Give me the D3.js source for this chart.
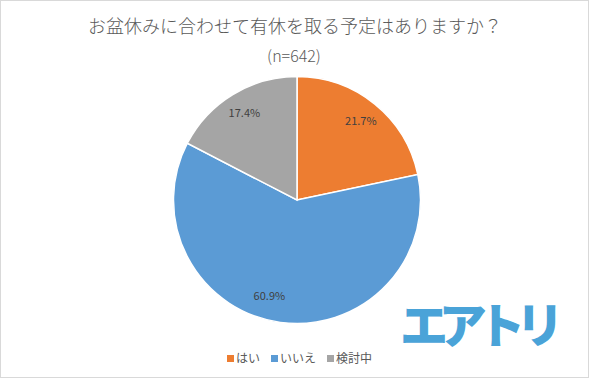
<!DOCTYPE html>
<html><head><meta charset="utf-8">
<script src="https://cdn.jsdelivr.net/npm/d3@7"></script>
<style>html,body{margin:0;padding:0;background:#fff;}svg{display:block;}</style>
</head><body>
<svg id="chart" width="590" height="379"></svg>
<script>
const categories = ["はい", "いいえ", "検討中"];
const values = [21.7, 60.9, 17.4];
const colors = ["#ED7D31", "#5B9BD5", "#A5A5A5"];
const titleText = "お盆休みに合わせて有休を取る予定はありますか？";
const subtitleText = "(n=642)";
const logoText = "エアトリ";

const W = 590, H = 379;
const svg = d3.select("#chart");
const font = "'Noto Sans CJK JP', 'Noto Sans', sans-serif";

svg.append("rect").attr("x", 0.5).attr("y", 0.5).attr("width", W - 2).attr("height", H - 2)
  .attr("fill", "#fff").attr("stroke", "#d9d9d9").attr("stroke-width", 1);

svg.append("text").attr("x", 295).attr("y", 33).attr("text-anchor", "middle")
  .attr("font-family", font).attr("font-weight", 300).attr("font-size", 18).attr("fill", "#595959").text(titleText);
svg.append("text").attr("x", 294).attr("y", 62).attr("text-anchor", "middle")
  .attr("font-family", font).attr("font-weight", 300).attr("font-size", 16).attr("fill", "#595959").text(subtitleText);

const cx = 297, cy = 200, R = 123.5;
const pie = d3.pie().sort(null).value(d => d.v).startAngle(0).endAngle(2 * Math.PI);
const data = pie(categories.map((c, i) => ({ c, v: values[i], color: colors[i] })));
const arc = d3.arc().innerRadius(0).outerRadius(R);
const g = svg.append("g").attr("transform", `translate(${cx},${cy})`);
g.selectAll("path").data(data).join("path")
  .attr("d", arc).attr("fill", d => d.data.color)
  .attr("stroke", "#fff").attr("stroke-width", 1.5);

const labelArc = d3.arc().innerRadius(R * 0.82).outerRadius(R * 0.82);
const nudge = [[0, 0], [-14, -4], [0, 0]];
g.selectAll("text.lbl").data(data).join("text").attr("class", "lbl")
  .attr("transform", (d, i) => {
    const [x, y] = labelArc.centroid(d);
    return `translate(${x + nudge[i][0]},${y + nudge[i][1]})`;
  })
  .attr("text-anchor", "middle").attr("dy", "0.35em")
  .attr("font-family", font).attr("font-size", 11).attr("fill", "#404040")
  .text(d => d.data.v.toFixed(1) + "%");

// legend
const legX = [227, 271, 327];
const lg = svg.append("g");
categories.forEach((c, i) => {
  lg.append("rect").attr("x", legX[i]).attr("y", 355).attr("width", 7).attr("height", 7).attr("fill", colors[i]);
  lg.append("text").attr("x", legX[i] + 9).attr("y", 363).attr("font-family", font)
    .attr("font-size", 12).attr("fill", "#595959").text(c);
});

// logo
svg.append("text").attr("x", 400).attr("y", 343)
  .attr("font-family", "'Noto Sans CJK JP', sans-serif").attr("font-weight", 900)
  .attr("font-size", 48).attr("fill", "#4AA3D8")
  .attr("textLength", 164).attr("lengthAdjust", "spacing")
  .text(logoText);
</script>
</body></html>
